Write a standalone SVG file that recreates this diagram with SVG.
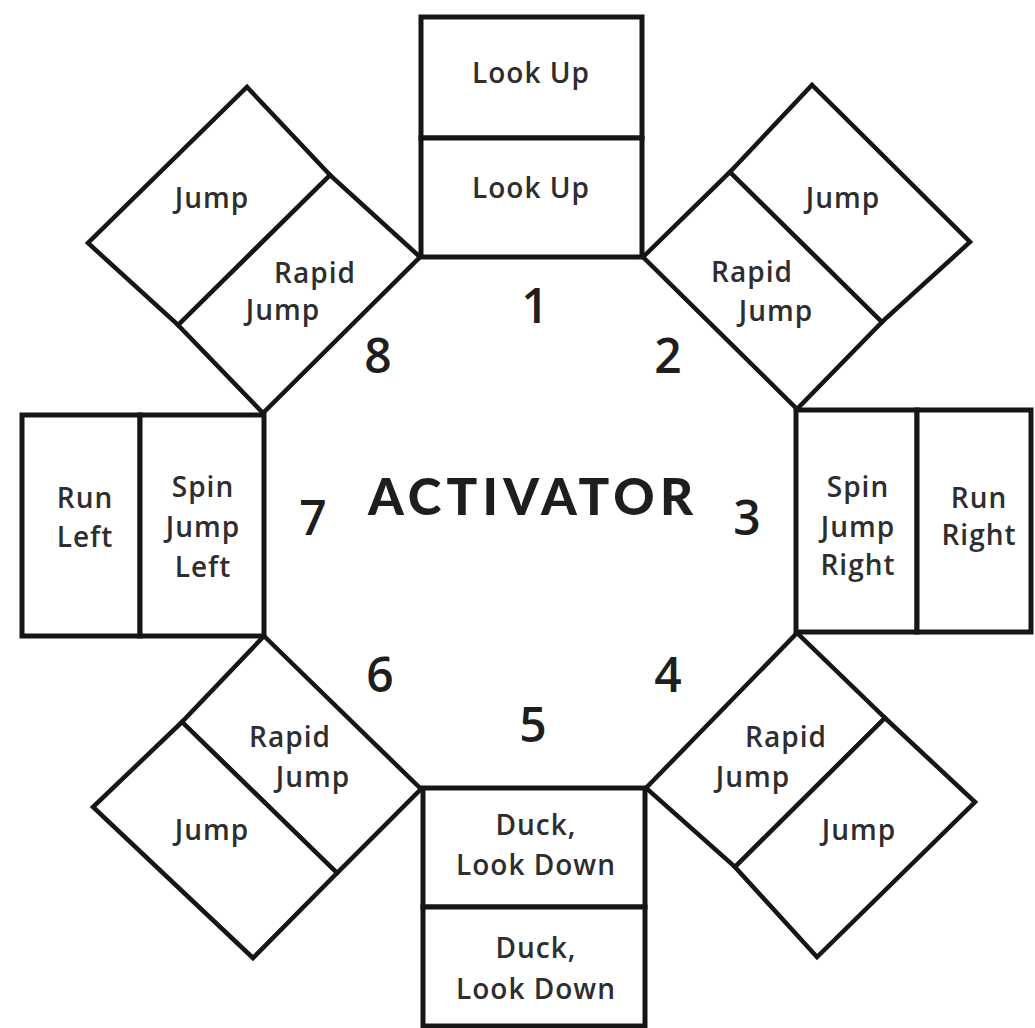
<svg xmlns="http://www.w3.org/2000/svg" width="1035" height="1028" viewBox="0 0 1035 1028">
<style>
.cell{fill:#ffffff;stroke:#161616;stroke-width:5;stroke-linejoin:miter}
.dia{fill:#ffffff;stroke:#161616;stroke-width:4.5;stroke-linejoin:miter}
.lbl{font-family:"Open Sans","Noto Sans",sans-serif;font-weight:600;font-size:28px;letter-spacing:1px;fill:#2e2e2e;text-anchor:middle}
.num{font-family:"Open Sans","Noto Sans",sans-serif;font-weight:600;font-size:48px;fill:#1e1e1e;text-anchor:middle}
.title{font-family:"Lato","Open Sans",sans-serif;font-weight:900;font-size:51px;fill:#1e1e1e}
</style>
<rect x="0" y="0" width="1035" height="1028" fill="#ffffff"/>
<g id="connectors"></g>
<g id="node-top-outer"><rect class="cell" x="421" y="17" width="221" height="121"/><text class="lbl" x="531" y="83">Look Up</text></g>
<g id="node-top-inner"><rect class="cell" x="421" y="138" width="221" height="119"/><text class="lbl" x="531" y="198">Look Up</text></g>
<g id="node-ur-inner"><polygon class="dia" points="643,257 730,172 882,322 797,409"/><text class="lbl" x="752" y="282">Rapid</text><text class="lbl" x="776" y="321">Jump</text></g>
<g id="node-ur-outer"><polygon class="dia" points="730,172 812,85 970,242 882,322"/><text class="lbl" x="843" y="208">Jump</text></g>
<g id="node-ul-inner"><polygon class="dia" points="420,257 330,175 178,325 263,413"/><text class="lbl" x="315" y="283">Rapid</text><text class="lbl" x="283" y="320">Jump</text></g>
<g id="node-ul-outer"><polygon class="dia" points="330,175 247,87 88,243 178,325"/><text class="lbl" x="212" y="208">Jump</text></g>
<g id="node-left-outer"><rect class="cell" x="22" y="415" width="118" height="221"/><text class="lbl" x="85" y="508">Run</text><text class="lbl" x="85" y="547">Left</text></g>
<g id="node-left-inner"><rect class="cell" x="140" y="415" width="124" height="221"/><text class="lbl" x="203" y="497">Spin</text><text class="lbl" x="203" y="537">Jump</text><text class="lbl" x="203" y="577">Left</text></g>
<g id="node-right-inner"><rect class="cell" x="796" y="410" width="121" height="222"/><text class="lbl" x="858" y="497">Spin</text><text class="lbl" x="858" y="537">Jump</text><text class="lbl" x="858" y="575">Right</text></g>
<g id="node-right-outer"><rect class="cell" x="917" y="410" width="114" height="222"/><text class="lbl" x="979" y="508">Run</text><text class="lbl" x="979" y="545">Right</text></g>
<g id="node-lr-inner"><polygon class="dia" points="646,788 797,633 885,718 735,867"/><text class="lbl" x="786" y="747">Rapid</text><text class="lbl" x="753" y="787">Jump</text></g>
<g id="node-lr-outer"><polygon class="dia" points="885,718 975,802 817,957 735,867"/><text class="lbl" x="859" y="840">Jump</text></g>
<g id="node-ll-inner"><polygon class="dia" points="264,636 421,789 337,873 182,722"/><text class="lbl" x="290" y="747">Rapid</text><text class="lbl" x="313" y="787">Jump</text></g>
<g id="node-ll-outer"><polygon class="dia" points="182,722 337,873 253,958 93,807"/><text class="lbl" x="212" y="840">Jump</text></g>
<g id="node-bottom-inner"><rect class="cell" x="423" y="788" width="222" height="119"/><text class="lbl" x="536" y="835">Duck,</text><text class="lbl" x="536" y="875">Look Down</text></g>
<g id="node-bottom-outer"><rect class="cell" x="423" y="907" width="222" height="119"/><text class="lbl" x="536" y="958">Duck,</text><text class="lbl" x="536" y="999">Look Down</text></g>
<g id="node-center">
<text class="title" x="368" y="515" textLength="325" lengthAdjust="spacing">ACTIVATOR</text>
<text class="num" x="535" y="323">1</text>
<text class="num" x="668" y="373">2</text>
<text class="num" x="747" y="535">3</text>
<text class="num" x="668" y="692">4</text>
<text class="num" x="533" y="742">5</text>
<text class="num" x="380" y="692">6</text>
<text class="num" x="313" y="535">7</text>
<text class="num" x="378" y="373">8</text>
</g>
</svg>
